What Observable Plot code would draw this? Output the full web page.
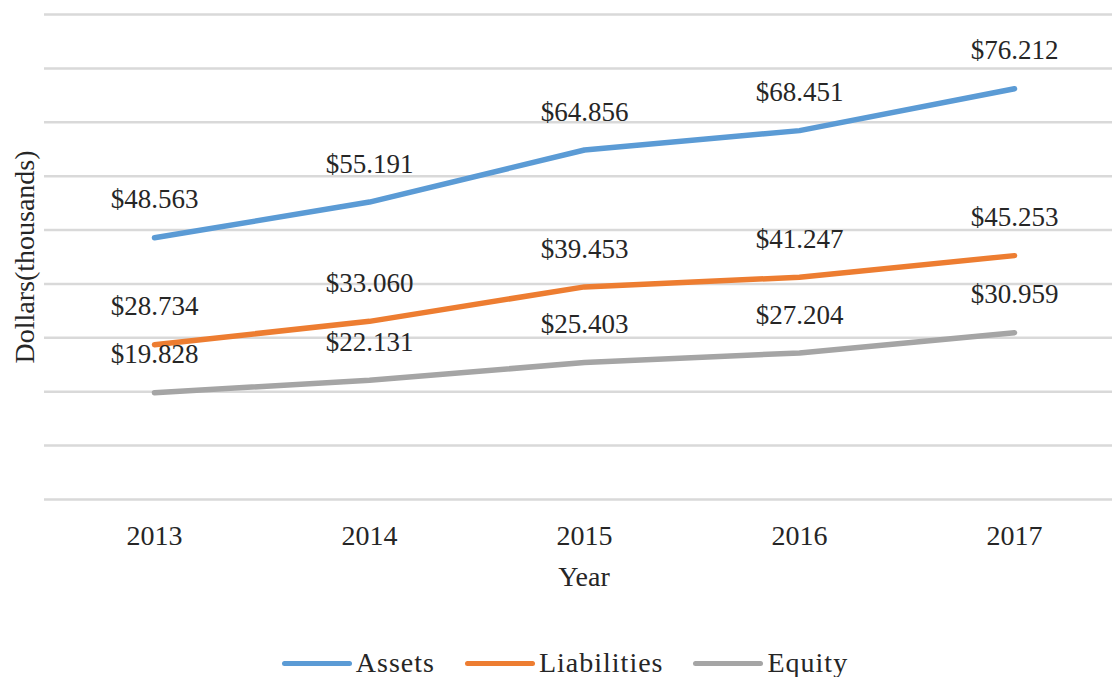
<!DOCTYPE html>
<html>
<head>
<meta charset="utf-8">
<script src="https://cdn.jsdelivr.net/npm/d3@7"></script>
<script src="https://cdn.jsdelivr.net/npm/@observablehq/plot@0.6"></script>
<style>
  html, body { margin: 0; padding: 0; background: #fff; }
  body { width: 1112px; height: 677px; overflow: hidden; font-family: "Liberation Serif", "Times New Roman", serif; }
  #legend { display: flex; justify-content: center; align-items: center; height: 56px; padding-left: 18px; color: #262626; font-size: 28px; letter-spacing: 1px; }
  .item { display: flex; align-items: center; margin: 0 15px; }
  .sw { width: 70px; height: 5px; border-radius: 3px; margin-right: 4px; }
</style>
</head>
<body>
<div id="chart"></div>
<div id="legend"></div>
<script>
const years = ["2013", "2014", "2015", "2016", "2017"];
const seriesNames = ["Assets", "Liabilities", "Equity"];
const assets = [48563, 55191, 64856, 68451, 76212];
const liabilities = [28734, 33060, 39453, 41247, 45253];
const equity = [19828, 22131, 25403, 27204, 30959];
const yTicks = [0, 10000, 20000, 30000, 40000, 50000, 60000, 70000, 80000, 90000];
const colors = ["#5B9BD5", "#ED7D31", "#A5A5A5"];

const seriesValues = [assets, liabilities, equity];
const data = [];
seriesNames.forEach((s, i) => years.forEach((y, j) => data.push({series: s, year: y, value: seriesValues[i][j]})));

const fmt = v => "$" + d3.format(",")(v).replace(/,/g, ".");
const font = "'Liberation Serif', 'Times New Roman', serif";

const chart = Plot.plot({
  width: 1112,
  height: 635,
  marginTop: 14,
  marginBottom: 136,
  marginLeft: 44,
  marginRight: -11,
  style: {fontFamily: font, background: "#fff", color: "#262626"},
  x: {type: "point", domain: years, padding: 0.5, label: null},
  y: {domain: [0, 90000], label: null, axis: null},
  color: {domain: seriesNames, range: colors},
  marks: [
    Plot.ruleY(yTicks, {stroke: "#d9d9d9", strokeWidth: 2.5}),
    Plot.axisX({tickSize: 0, tickPadding: 26, fontSize: 28, fill: "#262626", label: null}),
    Plot.line(data, {x: "year", y: "value", z: "series", stroke: "series", strokeWidth: 5.5, strokeLinecap: "round", strokeLinejoin: "round"}),
    Plot.text(data, {x: "year", y: "value", text: d => fmt(d.value), dy: -38, fontSize: 27, fill: "#262626", lineAnchor: "middle"}),
    Plot.text(["Year"], {frameAnchor: "bottom", dy: 67, fontSize: 28, fill: "#262626", lineAnchor: "top"}),
    Plot.text(["Dollars(thousands)"], {frameAnchor: "left", dx: -19, rotate: -90, fontSize: 28, fill: "#262626", textAnchor: "middle", lineAnchor: "middle"})
  ]
});
document.getElementById("chart").appendChild(chart);

const legend = d3.select("#legend");
seriesNames.forEach((s, i) => {
  const it = legend.append("div").attr("class", "item");
  it.append("div").attr("class", "sw").style("background", colors[i]);
  it.append("span").text(s);
});
</script>
</body>
</html>
